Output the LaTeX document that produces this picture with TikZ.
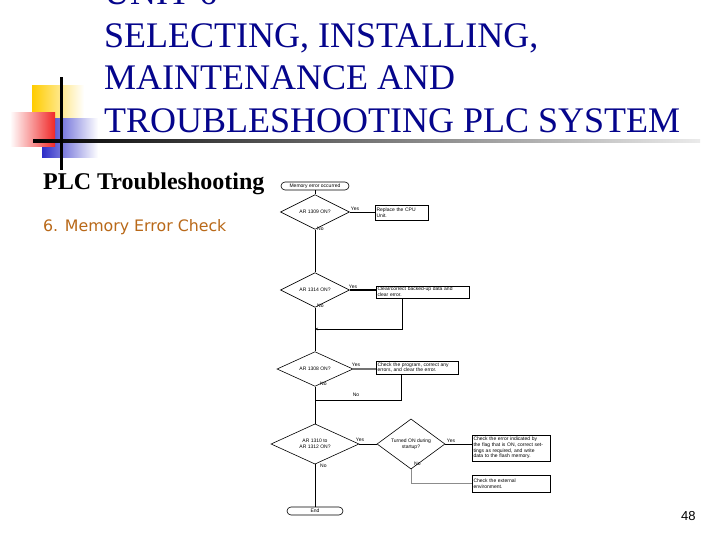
\documentclass[tikz,border=0pt]{standalone}
\usepackage{fontspec}
\setmainfont{Liberation Serif}
\newfontfamily\flowfont{Liberation Sans}
\newfontfamily\verdfont{DejaVu Sans}
\usetikzlibrary{shapes.geometric,shadows,arrows.meta}
\definecolor{titleblue}{RGB}{5,5,140}
\definecolor{subbrown}{RGB}{185,105,25}
\definecolor{decoyellow}{RGB}{255,204,0}
\definecolor{decored}{RGB}{240,40,40}
\definecolor{decoblue}{RGB}{45,45,200}
\begin{document}
\begin{tikzpicture}[x=1pt,y=-1pt,
  titletext/.style={anchor=base west, inner sep=0, text=titleblue, font=\fontsize{36}{40}\selectfont},
  flow/.style={font=\flowfont\fontsize{5}{5.6}\selectfont},
  term/.style={flow, draw, line width=0.6pt, rounded corners=4pt, inner sep=0, minimum height=8pt},
  dia/.style={flow, draw, line width=0.6pt, diamond, inner sep=0, align=center},
  pbox/.style={flow, draw, line width=0.6pt, fill=white, align=left, inner sep=1.5pt,
    drop shadow={shadow xshift=0.9pt, shadow yshift=-0.9pt, fill=black, opacity=1}},
  conn/.style={draw, line width=0.7pt},
  lbl/.style={flow, inner sep=0},
  nolbl/.style={flow, inner sep=0, anchor=west}
]
\useasboundingbox (0,0) rectangle (720,540);
\clip (0,0) rectangle (720,540);
\fill[white] (0,0) rectangle (720,540);

% decoration
\shade[left color=decoyellow, middle color=decoyellow, right color=white] (32,86) rectangle (84,118);
\shade[left color=decoblue, middle color=decoblue, right color=white] (42,119) rectangle (98,158);
\shade[left color=white, right color=decored] (10,113) rectangle (55,147);
\shade[left color=black, right color=black!8] (33,139.8) rectangle (700,142.6);
\fill[black] (59.8,77) rectangle (62.6,170);

% title
\node[titletext] (t1) at (104,5) {UNIT 6};
\node[titletext] (t2) at (104,47.5) {SELECTING, INSTALLING,};
\node[titletext] (t3) at (104,90) {MAINTENANCE AND};
\node[titletext] (t4) at (104,133) {TROUBLESHOOTING PLC SYSTEM};

\node[anchor=base west, inner sep=0, font=\bfseries\fontsize{24}{27}\selectfont] (head) at (43,190) {PLC Troubleshooting};
\node[anchor=base west, inner sep=0, text=subbrown, font=\verdfont\fontsize{15.8}{18}\selectfont] (sub) at (43,231) {6. Memory Error Check};
\node[anchor=base west, inner sep=0, font=\flowfont\fontsize{13}{15}\selectfont] (page) at (681,520) {48};

% flowchart
\node[term, minimum width=68pt] (start) at (315,186) {Memory error occurred};
\node[dia, minimum width=69pt, minimum height=20pt] (d1) at (315,212) {AR 1309 ON?};
\node[pbox, minimum width=53pt, minimum height=15pt, text width=50pt] (b1) at (401.5,213) {Replace the CPU\\Unit.};
\node[dia, minimum width=69pt, minimum height=26pt] (d2) at (315,290) {AR 1314 ON?};
\node[pbox, minimum width=93pt, minimum height=12pt, text width=90pt] (b2) at (422.5,292) {Clear/correct backed-up data and\\clear error.};
\node[dia, minimum width=76pt, minimum height=28pt] (d3) at (315,369) {AR 1308 ON?};
\node[pbox, minimum width=82pt, minimum height=11pt, text width=79pt] (b3) at (417,367.5) {Check the program, correct any\\errors, and clear the error.};
\node[dia, minimum width=88pt, minimum height=40pt] (d4) at (315,444) {AR 1310 to\\AR 1312 ON?};
\node[dia, minimum width=68pt, minimum height=24pt] (d5) at (411,444) {Turned ON during\\startup?};
\node[pbox, minimum width=78pt, minimum height=26pt, text width=75pt] (b4) at (511,448) {Check the error indicated by\\the flag that is ON, correct set-\\tings as required, and write\\data to the flash memory.};
\node[pbox, minimum width=78pt, minimum height=17pt, text width=75pt] (b5) at (511,483.5) {Check the external\\environment.};
\node[term, minimum width=56pt] (end) at (315,511) {End};

\coordinate (r2) at (315,329);
\coordinate (r3) at (315,400);

\draw[conn] (start) -- (d1);
\draw[conn] (d1.east) -- (d1.east -| b1.west);
\draw[conn] (d1) -- (d2);
\draw[conn, line width=1.2pt] (d2.east) -- (d2.east -| b2.west);
\draw[conn, -{Stealth[length=3pt,width=2.5pt]}] ([xshift=27pt]b2.south west) |- (r2);
\draw[conn] (d2) -- (d3);
\draw[conn, black!55, line width=1.1pt] (d3.east) -- (d3.east -| b3.west);
\draw[conn] ([xshift=26pt]b3.south west) |- (r3);
\draw[conn] (d3) -- (d4);
\draw[conn] (d4.east) -- (d5.west);
\draw[conn] (d5.east) -- (d5.east -| b4.west);
\draw[conn, black!45] (d5.south) |- (b5.west);
\draw[conn] (d4) -- (end);

\node[lbl] (y1) at (355,209) {Yes};
\node[nolbl] (n1) at (317,229) {No};
\node[lbl] (y2) at (353,287) {Yes};
\node[nolbl] (n2) at (317,306) {No};
\node[lbl] (y3) at (356,365) {Yes};
\node[nolbl] (n3) at (320,384) {No};
\node[lbl] (n3b) at (356,395) {No};
\node[lbl] (y4) at (360,440) {Yes};
\node[nolbl] (n4) at (320,466) {No};
\node[lbl] (y5) at (451,441) {Yes};
\node[nolbl] (n5) at (414,464) {No};
\end{tikzpicture}
\end{document}
